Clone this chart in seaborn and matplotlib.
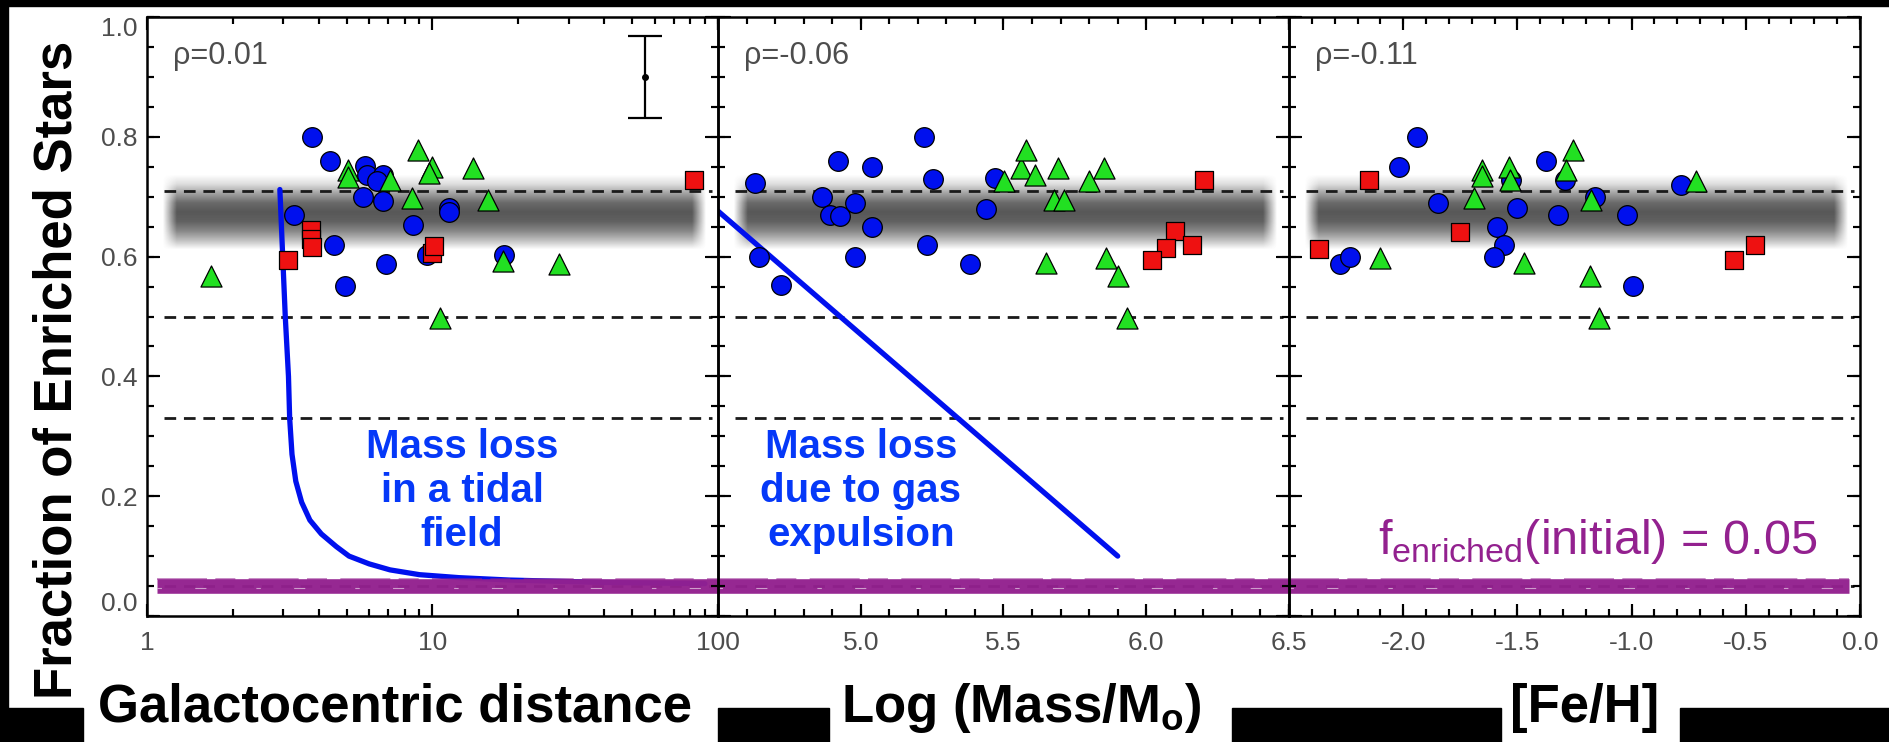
import numpy as np
import pandas as pd
import matplotlib
matplotlib.use("Agg")
import matplotlib.pyplot as plt
import seaborn as sns
from matplotlib.patches import Rectangle
from matplotlib.ticker import (MultipleLocator, LogLocator, NullFormatter,
                               FixedLocator, FixedFormatter, FormatStrFormatter)

# ---- panel 1: galactocentric distance ----
rgc_circ_x = [3.79, 4.36, 5.80, 5.90, 6.73, 5.69, 6.73, 3.27, 8.56, 11.4, 11.4,
              4.53, 4.95, 6.86, 9.57, 17.8, 6.37]
rgc_circ_y = [0.800, 0.760, 0.752, 0.737, 0.737, 0.700, 0.692, 0.670, 0.652, 0.681, 0.674,
              0.620, 0.551, 0.587, 0.603, 0.602, 0.726]
rgc_tri_x = [1.68, 5.06, 5.06, 7.12, 8.88, 9.93, 9.75, 8.50, 13.9, 15.6, 17.6, 27.8, 10.6]
rgc_tri_y = [0.567, 0.745, 0.733, 0.728, 0.778, 0.750, 0.739, 0.698, 0.748, 0.695, 0.592,
             0.587, 0.498]
rgc_sq_x = [3.12, 3.76, 3.76, 3.79, 9.93, 10.1, 82.5]
rgc_sq_y = [0.595, 0.645, 0.630, 0.616, 0.606, 0.617, 0.728]

# ---- panel 2: log mass ----
mass_circ_x = [4.631, 4.645, 4.719, 4.922, 5.04, 4.863, 4.893, 4.926, 4.98, 5.04, 4.98,
               5.221, 5.252, 5.231, 5.382, 5.44, 5.469]
mass_circ_y = [0.723, 0.600, 0.552, 0.759, 0.750, 0.700, 0.670, 0.668, 0.689, 0.650, 0.600,
               0.800, 0.729, 0.620, 0.587, 0.680, 0.731]
mass_tri_x = [5.502, 5.56, 5.579, 5.61, 5.69, 5.677, 5.711, 5.65, 5.80, 5.851, 5.86, 5.90, 5.932]
mass_tri_y = [0.726, 0.748, 0.778, 0.737, 0.748, 0.695, 0.695, 0.590, 0.726, 0.748, 0.598,
              0.567, 0.498]
mass_sq_x = [6.204, 6.102, 6.07, 6.16, 6.021]
mass_sq_y = [0.728, 0.642, 0.614, 0.620, 0.595]

# ---- panel 3: [Fe/H] ----
feh_circ_x = [-2.275, -2.233, -2.02, -1.94, -1.849, -1.589, -1.56, -1.602, -1.50, -1.526,
              -1.373, -1.291, -1.321, -1.16, -1.02, -0.993, -0.785]
feh_circ_y = [0.587, 0.600, 0.750, 0.800, 0.689, 0.650, 0.620, 0.600, 0.681, 0.728,
              0.760, 0.728, 0.670, 0.700, 0.670, 0.551, 0.720]
feh_tri_x = [-2.10, -1.654, -1.654, -1.538, -1.534, -1.69, -1.469, -1.258, -1.287, -1.176,
             -1.18, -1.143, -0.717]
feh_tri_y = [0.598, 0.745, 0.734, 0.750, 0.728, 0.698, 0.590, 0.778, 0.745, 0.695,
             0.567, 0.498, 0.726]
feh_sq_x = [-2.369, -2.148, -1.752, -0.55, -0.461]
feh_sq_y = [0.612, 0.728, 0.641, 0.595, 0.620]

# model curves
tidal_x = [2.92, 3.05, 3.13, 3.16, 3.22, 3.32, 3.48, 3.72, 4.08, 4.6, 5.1, 6.0, 7.1, 9.0,
           12.4, 18.6, 40.0, 90.0]
tidal_y = [0.712, 0.50, 0.40, 0.33, 0.27, 0.225, 0.19, 0.16, 0.137, 0.116, 0.100, 0.087,
           0.077, 0.069, 0.064, 0.060, 0.056, 0.054]
gas_x = [4.5, 5.9]
gas_y = [0.676, 0.100]

# typical error bar (panel 1)
err_x = [55.5]
err_y = [0.90]
err_e = [0.068]

# reference levels
dashed_levels = [0.71, 0.50, 0.33, 0.05]
f_initial = 0.05
band_levels = [0.605, 0.6225, 0.64, 0.6575, 0.675, 0.6925, 0.71, 0.7275, 0.745]
band_shade = [0.0, 0.35, 0.65, 0.85, 0.90, 0.80, 0.50, 0.18, 0.0]

rho_labels = ["ρ=0.01", "ρ=-0.06", "ρ=-0.11"]
xlabels = ["Galactocentric distance", "Log (Mass/M$_\\mathregular{o}$)", "[Fe/H]"]

BLUE = "#0010ee"
GREEN = "#22e022"
RED = "#ee1111"
TXT_BLUE = "#0538f8"
PURPLE = "#93218f"
GREY = "#4d4d4d"

sns.set_theme(style="ticks")
plt.rcParams["font.family"] = ["Liberation Sans", "DejaVu Sans"]

W, H = 1890, 742
fig = plt.figure(figsize=(W / 100, H / 100), dpi=100, facecolor="white")

lefts = [147, 718, 1289]
pw, top, bottom = 571, 17, 616
rects = [[l / W, 1 - bottom / H, pw / W, (bottom - top) / H] for l in lefts]
axes = [fig.add_axes(r) for r in rects]


def draw_points(ax, xs, ys, marker, color, size):
    df = pd.DataFrame({"x": xs, "y": ys})
    sns.scatterplot(data=df, x="x", y="y", ax=ax, marker=marker, color=color, s=size,
                    edgecolor="black", linewidth=0.9, zorder=5, legend=False)


band_img = np.zeros((len(band_levels), 40, 4))
hfade = np.ones(40)
hfade[0] = hfade[-1] = 0.0
band_img[..., :3] = 0.27
band_img[..., 3] = np.outer(band_shade, hfade)

sets = [
    (rgc_circ_x, rgc_circ_y, rgc_tri_x, rgc_tri_y, rgc_sq_x, rgc_sq_y),
    (mass_circ_x, mass_circ_y, mass_tri_x, mass_tri_y, mass_sq_x, mass_sq_y),
    (feh_circ_x, feh_circ_y, feh_tri_x, feh_tri_y, feh_sq_x, feh_sq_y),
]
xlims = [(1, 100), (4.5, 6.5), (-2.5, 0.0)]

for i, ax in enumerate(axes):
    if i == 0:
        ax.set_xscale("log")

    # grey band of observed values
    ax.imshow(band_img, extent=[0.015, 0.99, band_levels[0], band_levels[-1]],
              transform=ax.transAxes, aspect="auto", interpolation="bilinear",
              origin="lower", zorder=0.5)

    for lv in dashed_levels:
        ax.axhline(lv, xmin=0.03, xmax=0.99, color="#1a1a1a", lw=2.0,
                   dashes=(4.2, 2.8), zorder=1)

    # purple brush stroke for the initial fraction
    x0 = 0.018 if i == 0 else 0.0
    x1 = 0.98 if i == 2 else 1.0
    ax.axhline(f_initial, xmin=x0, xmax=x1, color=PURPLE, lw=10.5,
               solid_capstyle="butt", zorder=3, alpha=0.97)
    ax.axhline(f_initial + 0.011, xmin=x0, xmax=x1, color=PURPLE, lw=1.2, alpha=0.6,
               dashes=(30, 5, 12, 8), zorder=3)
    ax.axhline(f_initial - 0.003, xmin=x0, xmax=x1, color="white", lw=0.8, alpha=0.55,
               dashes=(4, 30, 10, 45), zorder=3.1)

    cx, cy, tx, ty, sx, sy = sets[i]
    draw_points(ax, cx, cy, "o", BLUE, 200)
    draw_points(ax, tx, ty, "^", GREEN, 230)
    draw_points(ax, sx, sy, "s", RED, 160)

    ax.text(0.045, 0.935, rho_labels[i], transform=ax.transAxes, ha="left", va="center",
            fontsize=22, color=GREY)

ax1, ax2, ax3 = axes

# model curves
sns.lineplot(x=tidal_x, y=tidal_y, ax=ax1, sort=False, estimator=None, color=BLUE,
             lw=3.8, zorder=2)
sns.lineplot(x=gas_x, y=gas_y, ax=ax2, sort=False, estimator=None, color=BLUE,
             lw=3.8, zorder=2)

ax1.errorbar(err_x, err_y, yerr=err_e, fmt="o", color="black", ms=4, capsize=12,
             elinewidth=1.6, capthick=1.6, zorder=6)

ax1.text(12.7, 0.209, "Mass loss\nin a tidal\nfield", ha="center", va="center",
         fontsize=29, fontweight="bold", color=TXT_BLUE, linespacing=1.2, zorder=6)
ax2.text(5.0, 0.209, "Mass loss\ndue to gas\nexpulsion", ha="center", va="center",
         fontsize=29, fontweight="bold", color=TXT_BLUE, linespacing=1.2, zorder=6)
ax3.text(-1.151, 0.103, "f$_\\mathregular{enriched}$(initial) = 0.05", ha="center",
         va="baseline", fontsize=35, color=PURPLE, zorder=6)

for i, ax in enumerate(axes):
    ax.set_xlim(*xlims[i])
    ax.set_ylim(0, 1)
    ax.set_axis_off()

# frames with IDL-style inward ticks, on top of the data panels
xticks = [[1, 10, 100], [4.5, 5.0, 5.5, 6.0, 6.5], [-2.5, -2.0, -1.5, -1.0, -0.5, 0.0]]
xticklabels = [["1", "10", "100"], ["", "5.0", "5.5", "6.0", "6.5"],
               ["", "-2.0", "-1.5", "-1.0", "-0.5", "0.0"]]
MAJ_PX, MIN_PX = 12.5, 6.9
frames = []
for i, r in enumerate(rects):
    fx = fig.add_axes(r, zorder=3)
    fx.set_facecolor("none")
    fx.grid(False)
    if i == 0:
        fx.set_xscale("log")
    lo, hi = xlims[i]
    fx.set_xlim(lo, hi)
    fx.set_ylim(0, 1)
    fx.xaxis.set_major_locator(FixedLocator(xticks[i]))
    fx.xaxis.set_major_formatter(FixedFormatter(xticklabels[i]))
    if i == 0:
        fx.xaxis.set_minor_locator(LogLocator(base=10, subs=np.arange(2, 10)))
    else:
        fx.xaxis.set_minor_locator(MultipleLocator(0.1))
    fx.xaxis.set_minor_formatter(NullFormatter())
    fx.yaxis.set_major_locator(MultipleLocator(0.2))
    fx.yaxis.set_minor_locator(MultipleLocator(0.05))
    fx.yaxis.set_major_formatter(FormatStrFormatter("%.1f"))
    fx.tick_params(which="both", direction="in", top=True, right=True, left=True,
                   bottom=True, color="black", width=1.5, labelcolor=GREY, labelsize=19)
    fx.tick_params(which="major", length=9)
    fx.tick_params(which="minor", length=5)
    fx.tick_params(axis="x", pad=11)
    fx.tick_params(axis="y", pad=7, labelleft=(i == 0))
    for sp in fx.spines.values():
        sp.set_visible(True)
        sp.set_color("black")
        sp.set_linewidth(1.8)

    # tick marks drawn as short segments at the locator positions
    ah = (bottom - top)
    xt = fx.get_xaxis_transform()
    yt = fx.get_yaxis_transform()
    for loc, L in [(fx.xaxis.get_major_locator(), MAJ_PX / ah),
                   (fx.xaxis.get_minor_locator(), MIN_PX / ah)]:
        vals = [v for v in np.asarray(loc(), dtype=float)
                if lo - 1e-9 <= v <= hi + 1e-9]
        if vals:
            fx.vlines(vals, 0, L, transform=xt, colors="black", linewidth=1.5,
                      clip_on=False, zorder=4)
            fx.vlines(vals, 1 - L, 1, transform=xt, colors="black", linewidth=1.5,
                      clip_on=False, zorder=4)
    for loc, L in [(fx.yaxis.get_major_locator(), MAJ_PX / pw),
                   (fx.yaxis.get_minor_locator(), MIN_PX / pw)]:
        vals = [v for v in np.asarray(loc(), dtype=float) if -1e-9 <= v <= 1 + 1e-9]
        if vals:
            fx.hlines(vals, 0, L, transform=yt, colors="black", linewidth=1.5,
                      clip_on=False, zorder=4)
            fx.hlines(vals, 1 - L, 1, transform=yt, colors="black", linewidth=1.5,
                      clip_on=False, zorder=4)
    fx.set_xlim(lo, hi)
    fx.set_ylim(0, 1)
    frames.append(fx)

# axis titles
fig.text(72 / W, 1 - 370 / H, "Fraction of Enriched Stars", rotation=90,
         rotation_mode="anchor", ha="center", va="baseline", fontsize=38,
         fontweight="bold", color="black")
for cxp, lab in zip([395, 1021, 1585], xlabels):
    fig.text(cxp / W, 20 / H, lab, ha="center", va="baseline", fontsize=38,
             fontweight="bold", color="black")

# black slide background pieces
for (x, y, w, h) in [(0, 0, 83, 34), (718, 0, 111, 34), (1232, 0, 269, 34),
                     (1680, 0, 210, 34), (0, H - 6, W, 6), (0, 34, 8, H - 34)]:
    fig.add_artist(Rectangle((x / W, y / H), w / W, h / H, transform=fig.transFigure,
                             color="black", zorder=10))

# end labels sit inside the axis range, as in the original
fig.canvas.draw()
for t in frames[0].yaxis.get_major_ticks():
    if abs(t.get_loc() - 1.0) < 1e-6:
        t.label1.set_va("top")
    elif abs(t.get_loc()) < 1e-6:
        t.label1.set_va("bottom")

fig.savefig("out.png", dpi=100, facecolor="white")
